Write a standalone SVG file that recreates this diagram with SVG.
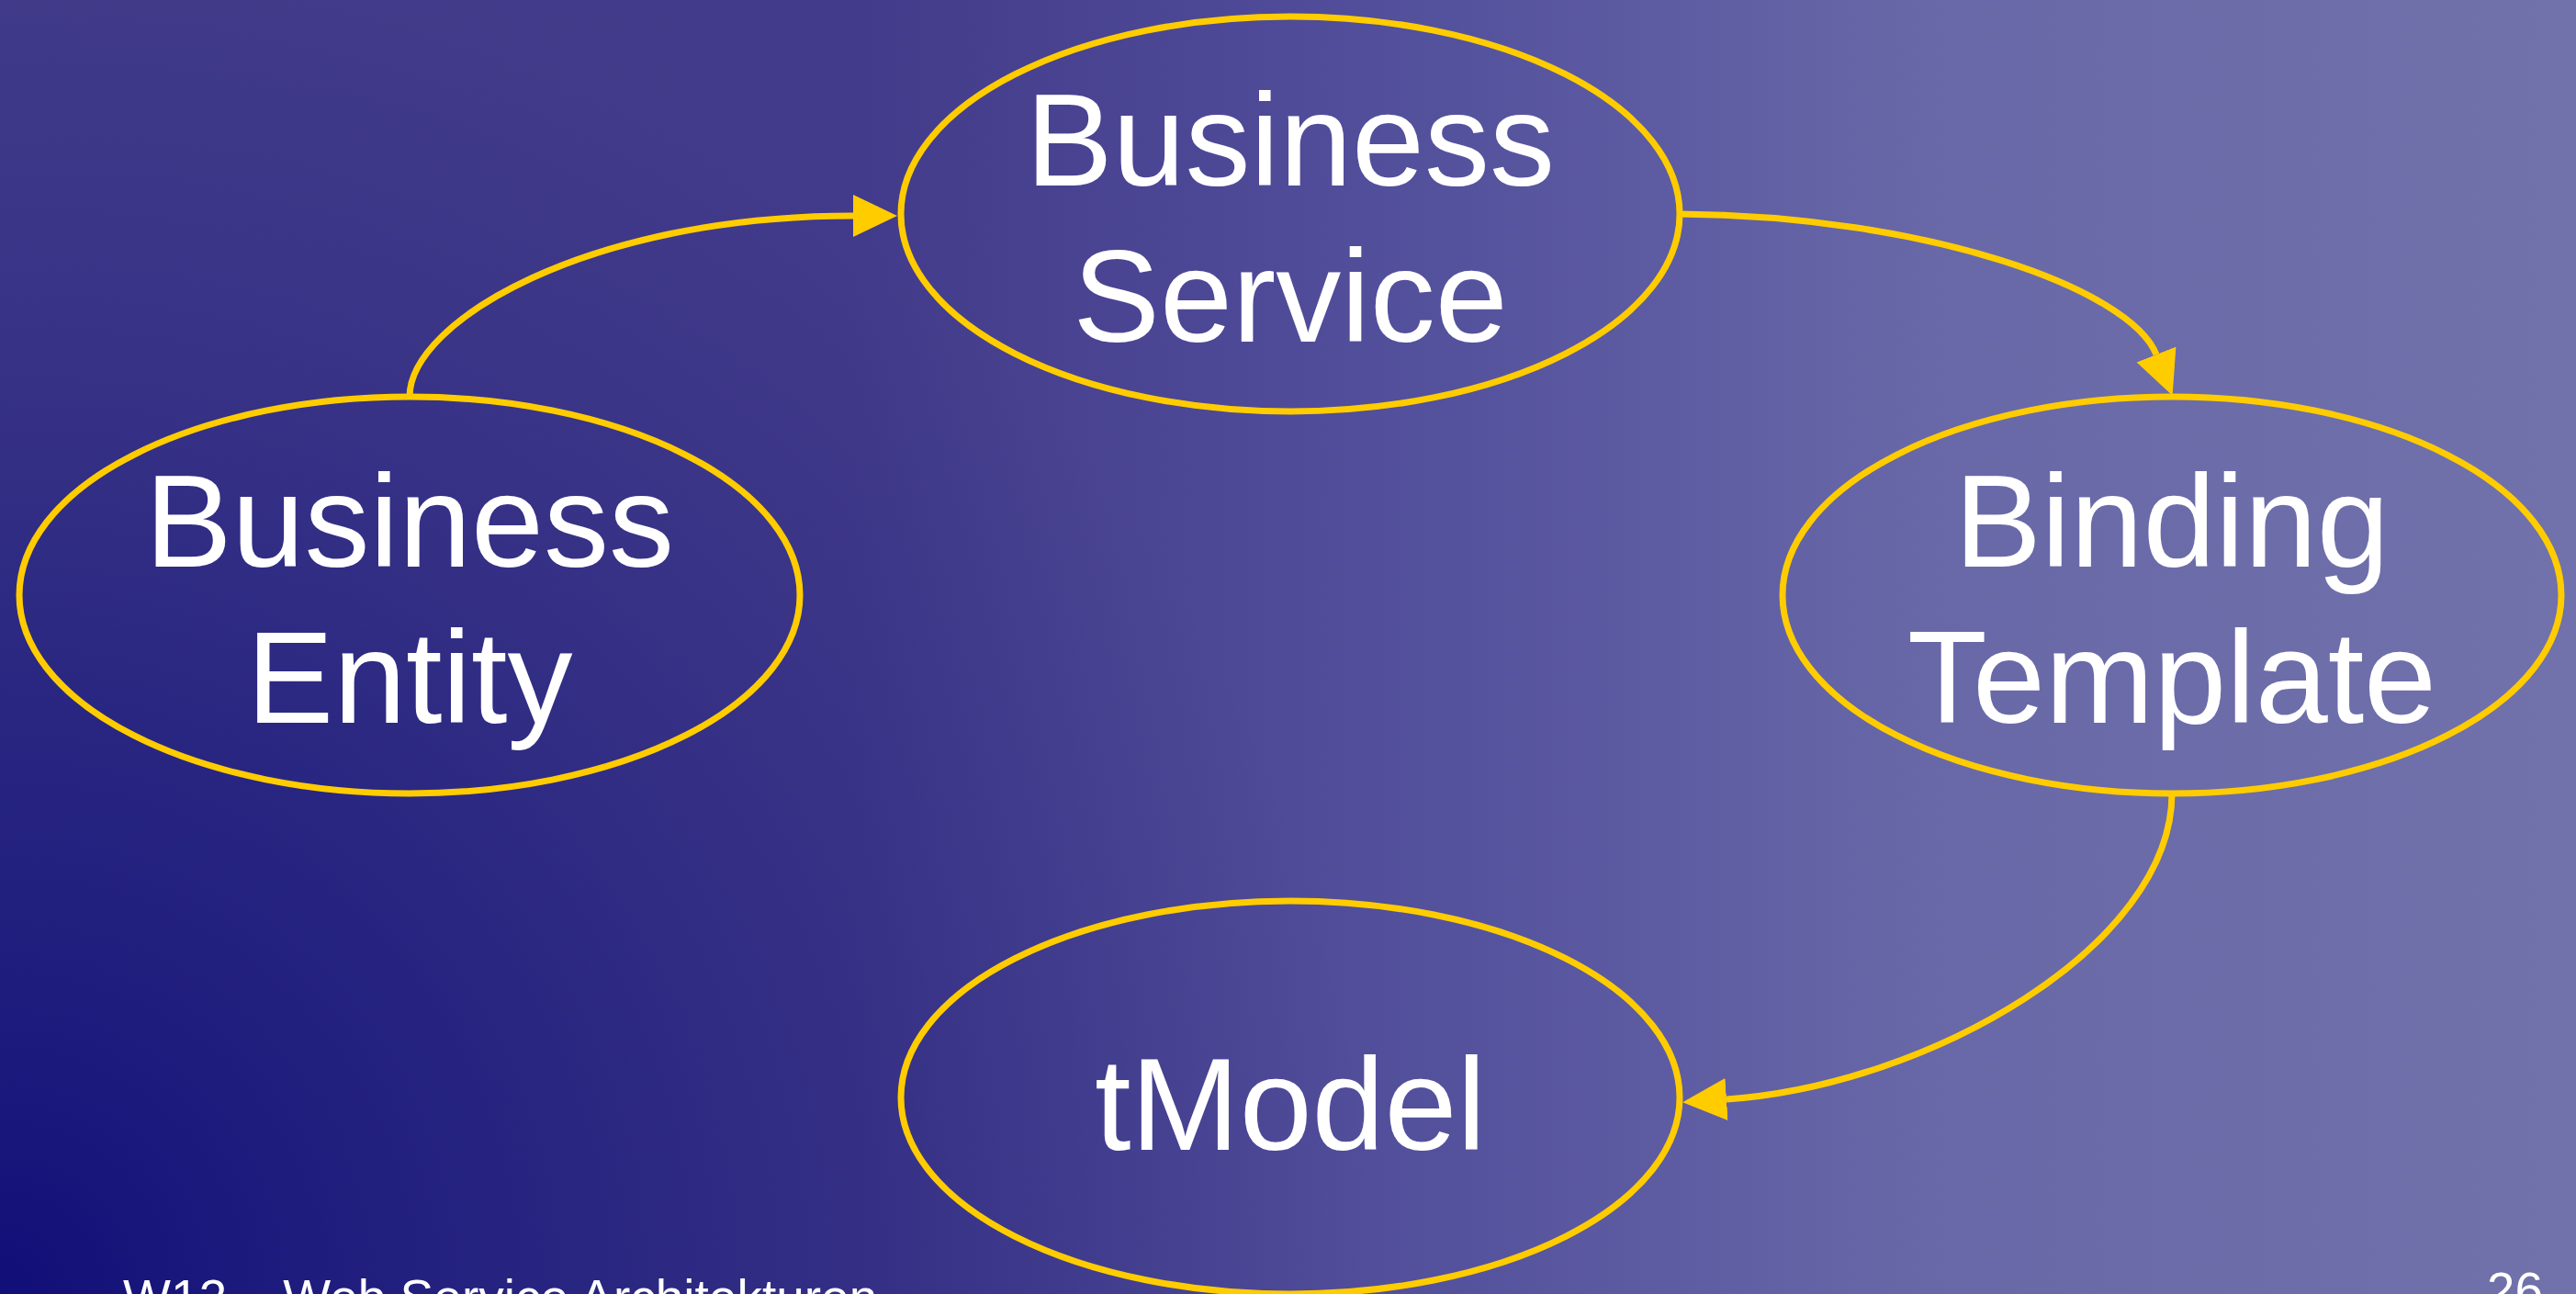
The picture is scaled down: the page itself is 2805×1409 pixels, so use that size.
<svg xmlns="http://www.w3.org/2000/svg" width="2805" height="1409" viewBox="0 0 2805 1409">
  <defs>
    <linearGradient id="bg" x1="0" y1="0" x2="2805" y2="0" gradientUnits="userSpaceOnUse">
      <stop offset="0" stop-color="#423b8a"/>
      <stop offset="0.33" stop-color="#423a8a"/>
      <stop offset="0.55" stop-color="#53509c"/>
      <stop offset="0.75" stop-color="#6868a8"/>
      <stop offset="1" stop-color="#7171ab"/>
    </linearGradient>
    <radialGradient id="dark" cx="0" cy="1409" r="1500" gradientUnits="userSpaceOnUse">
      <stop offset="0" stop-color="#110f78" stop-opacity="1"/>
      <stop offset="0.45" stop-color="#1a1a7c" stop-opacity="0.6"/>
      <stop offset="1" stop-color="#2a2a80" stop-opacity="0"/>
    </radialGradient>
    <marker id="arrow" markerUnits="userSpaceOnUse" markerWidth="52" markerHeight="50" refX="0" refY="23" orient="auto">
      <path d="M0,0 L48,23 L0,46 Z" fill="#ffcc00"/>
    </marker>
    <style>
      .node { fill: none; stroke: #ffcc00; stroke-width: 7; }
      .label { font-family: "Liberation Sans", Arial, sans-serif; font-size: 142px; fill: #ffffff; text-anchor: middle; }
      .edge { fill: none; stroke: #ffcc00; stroke-width: 7; marker-end: url(#arrow); }
      .footer { font-family: "Liberation Sans", Arial, sans-serif; font-size: 55px; fill: #ffffff; }
    </style>
  </defs>
  <rect x="0" y="0" width="2805" height="1409" fill="url(#bg)"/>
  <rect x="0" y="0" width="2805" height="1409" fill="url(#dark)"/>

  <g id="connectors">
    <path class="edge" d="M446,432 C446,350 640,235 929,235"/>
    <path class="edge" d="M1828,233 C2100,235 2320,315 2348,386"/>
    <path class="edge" d="M2365,864 C2365,1030 2100,1182 1880,1197"/>
  </g>

  <g id="business-service">
    <ellipse class="node" cx="1405" cy="233" rx="424" ry="215"/>
    <text class="label" x="1405" y="202">Business</text>
    <text class="label" x="1405" y="372">Service</text>
  </g>
  <g id="business-entity">
    <ellipse class="node" cx="446" cy="648" rx="425" ry="216"/>
    <text class="label" x="446" y="617">Business</text>
    <text class="label" x="446" y="787">Entity</text>
  </g>
  <g id="binding-template">
    <ellipse class="node" cx="2365" cy="648" rx="424" ry="216"/>
    <text class="label" x="2365" y="617">Binding</text>
    <text class="label" x="2365" y="787">Template</text>
  </g>
  <g id="tmodel">
    <ellipse class="node" cx="1405" cy="1195" rx="424" ry="214"/>
    <text class="label" x="1405" y="1252">tModel</text>
  </g>

  <g id="footer">
    <text class="footer" x="134" y="1432">W12 – Web Service Architekturen</text>
    <text class="footer" x="2769" y="1424" text-anchor="end">26</text>
  </g>
</svg>
